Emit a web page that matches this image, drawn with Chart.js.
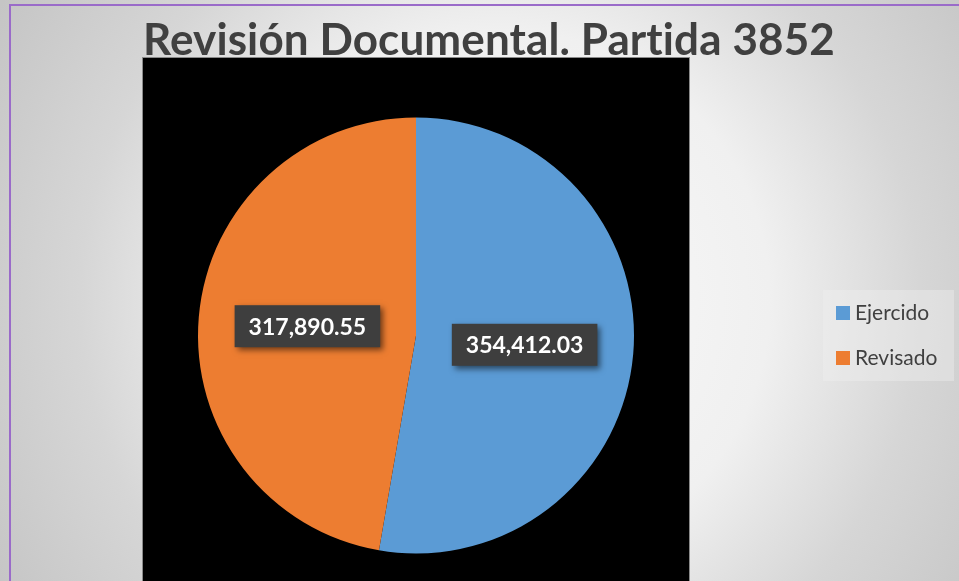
<!DOCTYPE html>
<html>
<head>
<meta charset="utf-8">
<script src="https://cdn.jsdelivr.net/npm/chart.js@4"></script>
<style>
    html, body { margin: 0; padding: 0; }
    body {
        width: 959px; height: 581px; overflow: hidden; position: relative;
        background: radial-gradient(circle at 500px 300px, #fbfbfb 0px, #f0f0f0 270px, #d6d6d6 420px, #c5c5c5 580px);
    }
    #frame {
        position: absolute; left: 9px; top: 4px; right: 0; bottom: 0;
        border-left: 2px solid #9a6bc9; border-top: 2px solid #9a6bc9;
    }
    #wrap { position: absolute; left: 0; top: 0; width: 959px; height: 581px; }
</style>
</head>
<body>
<div id="frame"></div>
<div id="wrap"><canvas id="pieChart"></canvas></div>
<script>
// Chart data
const titleText = 'Revisión Documental. Partida 3852';
const categories = ['Ejercido', 'Revisado'];
const amounts = [354412.03, 317890.55];
const sliceColors = ['#5b9bd5', '#ed7d31'];

function formatAmount(v) {
    return v.toLocaleString('en-US', { minimumFractionDigits: 2, maximumFractionDigits: 2 });
}

// black plot background around the pie + title
const backdropPlugin = {
    id: 'backdrop',
    beforeDraw(chart) {
        const ctx = chart.ctx;
        const area = chart.chartArea;
        ctx.save();
        ctx.fillStyle = '#000000';
        ctx.fillRect(area.left - 55, area.top - 59, (area.right - area.left) + 110, chart.height);
        ctx.strokeStyle = '#8a8a8a';
        ctx.lineWidth = 1;
        ctx.strokeRect(area.left - 55.5, area.top - 59.5, (area.right - area.left) + 111, chart.height);

        ctx.fillStyle = '#404040';
        ctx.font = 'bold 44px Lato';
        ctx.letterSpacing = '0.1px'; // also keeps "ti" from joining
        ctx.textAlign = 'center';
        ctx.textBaseline = 'alphabetic';
        ctx.fillText(titleText, 489, 55);
        ctx.restore();
    }
};

// value boxes on the slices
const labelPlugin = {
    id: 'valueBoxes',
    afterDatasetsDraw(chart) {
        const ctx = chart.ctx;
        const meta = chart.getDatasetMeta(0);
        ctx.save();
        ctx.font = 'bold 23px Lato';
        ctx.textAlign = 'center';
        ctx.textBaseline = 'middle';
        meta.data.forEach((arc, i) => {
            const pos = arc.tooltipPosition();
            const text = formatAmount(chart.data.datasets[0].data[i]);
            const w = ctx.measureText(text).width + 28;
            const h = 42;
            ctx.shadowColor = 'rgba(0,0,0,0.55)';
            ctx.shadowBlur = 6;
            ctx.shadowOffsetX = 3;
            ctx.shadowOffsetY = 3;
            ctx.fillStyle = '#3e3e3e';
            ctx.fillRect(pos.x - w / 2, pos.y - h / 2, w, h);
            ctx.shadowColor = 'transparent';
            ctx.fillStyle = '#ffffff';
            ctx.fillText(text, pos.x, pos.y + 1);
        });
        ctx.restore();
    }
};

// legend on the right
const legendPlugin = {
    id: 'sideLegend',
    afterDraw(chart) {
        const ctx = chart.ctx;
        ctx.save();
        ctx.fillStyle = 'rgba(240,240,240,0.4)';
        ctx.fillRect(823, 290, 131, 91);
        ctx.font = '21px Lato';
        ctx.textAlign = 'left';
        ctx.textBaseline = 'middle';
        chart.data.labels.forEach((lbl, i) => {
            const y = 313 + i * 45;
            ctx.fillStyle = chart.data.datasets[0].backgroundColor[i];
            ctx.fillRect(836, y - 7, 14, 14);
            ctx.fillStyle = '#404040';
            ctx.fillText(lbl, 855, y);
        });
        ctx.restore();
    }
};

window.onload = function() {
    const ctx = document.getElementById('pieChart').getContext('2d');
    new Chart(ctx, {
        type: 'pie',
        data: {
            labels: categories,
            datasets: [{
                data: amounts,
                backgroundColor: sliceColors,
                borderWidth: 0
            }]
        },
        options: {
            responsive: true,
            maintainAspectRatio: false,
            animation: false,
            layout: { padding: { left: 198, right: 325, top: 117, bottom: 27 } },
            plugins: {
                legend: { display: false },
                title: { display: false },
                tooltip: { enabled: false }
            }
        },
        plugins: [backdropPlugin, labelPlugin, legendPlugin]
    });
};
</script>
</body>
</html>
